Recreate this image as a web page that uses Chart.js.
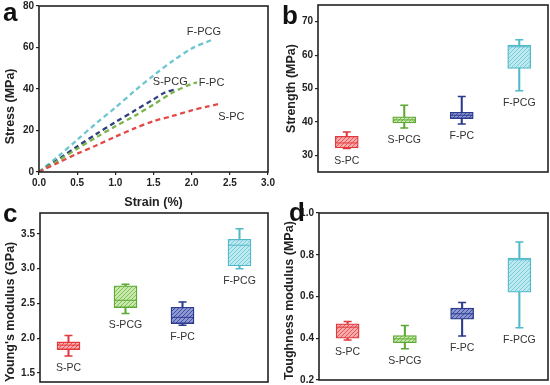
<!DOCTYPE html>
<html>
<head>
<meta charset="utf-8">
<script src="https://cdn.jsdelivr.net/npm/chart.js@4.4.1/dist/chart.umd.min.js"></script>
<style>
  body { margin: 0; background: #fff; width: 550px; height: 385px; position: relative; overflow: hidden; font-family: "Liberation Sans", Arial, sans-serif; }
  canvas { position: absolute; }
  .tag { position: absolute; font: bold 26px "Liberation Sans", Arial, sans-serif; line-height: 26px; color: #111; }
</style>
</head>
<body>
<canvas id="cA" width="277" height="210" style="left:0;top:0"></canvas>
<canvas id="cB" width="275" height="190" style="left:275px;top:0"></canvas>
<canvas id="cC" width="275" height="190" style="left:0;top:195px"></canvas>
<canvas id="cD" width="275" height="190" style="left:275px;top:195px"></canvas>
<div class="tag" style="left:3px;top:-1px">a</div>
<div class="tag" style="left:282px;top:2px">b</div>
<div class="tag" style="left:3px;top:200px">c</div>
<div class="tag" style="left:289px;top:199px">d</div>
<script>
// ---- data ----
const groups = ['S-PC', 'S-PCG', 'F-PC', 'F-PCG'];

// (a) stress-strain curves
const fpcgStrain = [0, 0.25, 0.5, 0.75, 1.0, 1.25, 1.5, 1.75, 2.0, 2.26];
const fpcgStress = [0, 7.5, 15.5, 23.5, 31, 39, 46.5, 53.5, 59.5, 63.6];
const spcgStrain = [0, 0.25, 0.5, 0.75, 1.0, 1.25, 1.5, 1.65, 1.8];
const spcgStress = [0, 6, 12.3, 18.3, 24, 29.5, 35, 38.3, 40];
const fpcStrain = [0, 0.25, 0.5, 0.75, 1.0, 1.25, 1.5, 1.75, 2.0, 2.07];
const fpcStress = [0, 5.5, 11.2, 16.7, 22, 27, 32.5, 38.3, 42.5, 43.2];
const spcStrain = [0, 0.25, 0.5, 0.75, 1.0, 1.25, 1.5, 1.75, 2.0, 2.2, 2.35];
const spcStress = [0, 4.5, 8.8, 12.8, 17, 21, 24.5, 27, 29.7, 31.5, 32.7];
const strainTicks = [0, 0.5, 1, 1.5, 2, 2.5, 3];
const stressTicks = [0, 20, 40, 60, 80];

// (b) strength, MPa
const strMin = [32.0, 38.2, 39.4, 49.3];
const strQ1  = [32.2, 39.7, 41.0, 56.0];
const strMed = [33.7, 40.6, 42.0, 62.5];
const strQ3  = [35.7, 41.5, 42.9, 63.0];
const strMax = [37.0, 45.0, 47.6, 64.6];
const strTicks = [30, 40, 50, 60, 70];

// (c) Young's modulus, GPa
const ymMin = [1.745, 2.354, 2.186, 3.0];
const ymQ1  = [1.836, 2.44, 2.21, 3.04];
const ymMed = [1.9, 2.545, 2.30, 3.337];
const ymQ3  = [1.946, 2.752, 2.445, 3.423];
const ymMax = [2.037, 2.776, 2.52, 3.572];
const ymTicks = [1.5, 2.0, 2.5, 3.0, 3.5];

// (d) toughness modulus, MPa
const tgMin = [0.392, 0.35, 0.411, 0.45];
const tgQ1  = [0.40, 0.379, 0.491, 0.621];
const tgMed = [0.453, 0.397, 0.517, 0.776];
const tgQ3  = [0.469, 0.413, 0.544, 0.784];
const tgMax = [0.48, 0.461, 0.571, 0.861];
const tgTicks = [0.2, 0.4, 0.6, 0.8, 1.0];

// ---- styling ----
const FONT = '"Liberation Sans", Arial, sans-serif';
const edge = ['#e0393e', '#5ea836', '#2b3a8c', '#52b9c9'];
const base = ['#f7aaa9', '#c8e8ad', '#8e99d2', '#bfe8ef'];
const stripe = ['#e8585b', '#7cc152', '#3d4da6', '#74cdda'];

function hatch(b, s) {
  const c = document.createElement('canvas');
  c.width = c.height = 4;
  const g = c.getContext('2d');
  g.fillStyle = b;
  g.fillRect(0, 0, 4, 4);
  g.strokeStyle = s;
  g.lineWidth = 1;
  g.beginPath();
  g.moveTo(0, 4); g.lineTo(4, 0);
  g.moveTo(-1, 1); g.lineTo(1, -1);
  g.moveTo(3, 5); g.lineTo(5, 3);
  g.stroke();
  return g.createPattern(c, 'repeat');
}
const fills = base.map((b, i) => hatch(b, stripe[i]));

Chart.defaults.font.family = FONT;
Chart.defaults.color = '#222';
Chart.defaults.animation = false;

// frame round the plot area
const frame = {
  id: 'frame',
  afterDraw(chart) {
    const a = chart.chartArea, ctx = chart.ctx;
    ctx.save();
    ctx.strokeStyle = '#222';
    ctx.lineWidth = 1.6;
    ctx.strokeRect(a.left, a.top, a.right - a.left, a.bottom - a.top);
    ctx.restore();
  }
};

// text notes placed in data coordinates
const notes = {
  id: 'notes',
  afterDatasetsDraw(chart, args, opts) {
    const ctx = chart.ctx;
    ctx.save();
    ctx.font = opts.font || ('11px ' + FONT);
    ctx.fillStyle = '#333';
    ctx.textAlign = 'center';
    ctx.textBaseline = 'middle';
    (opts.items || []).forEach(n => {
      const x = chart.scales.x.getPixelForValue(n.x);
      const y = chart.scales.y.getPixelForValue(n.y) + (n.dy || 0);
      ctx.fillText(n.text, x, y);
    });
    ctx.restore();
  }
};

function yAxis(min, max, ticks, title, width, titlePad, align, fmt) {
  return {
    min: min, max: max,
    afterBuildTicks: s => { s.ticks = ticks.map(v => ({ value: v })); },
    afterFit: s => { s.width = width; },
    grid: { display: true, drawOnChartArea: false, drawTicks: true, tickLength: 3, color: '#222', lineWidth: 1.2 },
    border: { display: false },
    ticks: { font: { size: 10, weight: 'bold', lineHeight: 0.2 }, color: '#222', padding: 2, callback: fmt },
    title: { display: true, text: title, align: align, font: { size: 12.5, weight: 'bold' }, color: '#222', padding: { top: titlePad, bottom: 0 } }
  };
}

// ---- (a) ----
const pts = (xs, ys) => xs.map((x, i) => ({ x: x, y: ys[i] }));
function curve(label, xs, ys, color) {
  return { label: label, data: pts(xs, ys), borderColor: color, borderWidth: 2.3, borderDash: [5, 3.5], pointRadius: 0, fill: false, tension: 0.3 };
}
new Chart(document.getElementById('cA'), {
  type: 'line',
  data: {
    datasets: [
      curve('S-PC', spcStrain, spcStress, '#e24a48'),
      curve('F-PC', fpcStrain, fpcStress, '#7ab54b'),
      curve('S-PCG', spcgStrain, spcgStress, '#2e3e7e'),
      curve('F-PCG', fpcgStrain, fpcgStress, '#6cc6d0')
    ]
  },
  options: {
    responsive: false,
    layout: { autoPadding: false, padding: { left: 0, right: 9, top: 6, bottom: 0 } },
    plugins: {
      legend: { display: false }, tooltip: { enabled: false },
      notes: { items: [
        { text: 'F-PCG', x: 2.16, y: 67.4 },
        { text: 'S-PCG', x: 1.72, y: 43.4 },
        { text: 'F-PC', x: 2.26, y: 42.9 },
        { text: 'S-PC', x: 2.52, y: 26.6 }
      ] }
    },
    scales: {
      x: {
        type: 'linear', min: 0, max: 3,
        afterBuildTicks: s => { s.ticks = strainTicks.map(v => ({ value: v })); },
        afterFit: s => { s.height = 38; },
        grid: { display: true, drawOnChartArea: false, drawTicks: true, tickLength: 3, color: '#222', lineWidth: 1.2 },
        border: { display: false },
        ticks: { font: { size: 10, weight: 'bold' }, color: '#222', padding: 2, maxRotation: 0, callback: v => v.toFixed(1) },
        title: { display: true, text: 'Strain (%)', font: { size: 12.5, weight: 'bold' }, color: '#222', padding: { top: 2, bottom: 0 } }
      },
      y: yAxis(0, 80, stressTicks, 'Stress (MPa)          ', 39, 3, 'center', v => v)
    }
  },
  plugins: [frame, notes]
});

// ---- box panels ----
function boxChart(id, lo, q1, med, q3, hi, min, max, ticks, title, yw, titlePad, align, pad, xh, fmt) {
  new Chart(document.getElementById(id), {
    type: 'bar',
    data: {
      labels: groups,
      datasets: [
        { type: 'line', data: hi, showLine: false, pointStyle: 'line', pointRadius: 4, pointBorderWidth: 1.5, pointBorderColor: edge, order: 0 },
        { type: 'line', data: lo, showLine: false, pointStyle: 'line', pointRadius: 4, pointBorderWidth: 1.5, pointBorderColor: edge, order: 0 },
        { type: 'line', data: med, showLine: false, pointStyle: 'line', pointRadius: 11, pointBorderWidth: 1, pointBorderColor: edge, order: 0 },
        { data: q1.map((v, i) => [v, q3[i]]), backgroundColor: fills, borderColor: edge, borderWidth: 1.3, borderSkipped: false, barThickness: 23, grouped: false, order: 1 },
        { data: lo.map((v, i) => [v, hi[i]]), backgroundColor: edge, borderWidth: 0, barThickness: 1.4, grouped: false, order: 2 }
      ]
    },
    options: {
      responsive: false,
      layout: { autoPadding: false, padding: pad },
      plugins: {
        legend: { display: false }, tooltip: { enabled: false },
        notes: { font: '10.5px ' + FONT, items: groups.map((g, i) => ({ text: g, x: i, y: lo[i], dy: 12 })) }
      },
      scales: {
        x: {
          ticks: { display: false },
          grid: { display: false },
          border: { display: false },
          afterFit: s => { s.height = xh; }
        },
        y: yAxis(min, max, ticks, title, yw, titlePad, align, fmt)
      }
    },
    plugins: [frame, notes]
  });
}

boxChart('cB', strMin, strQ1, strMed, strQ3, strMax, 25, 75, strTicks, 'Strength (MPa)', 43, 9, 'center',
  { left: 0, right: 2, top: 5, bottom: 0 }, 18, v => v);
boxChart('cC', ymMin, ymQ1, ymMed, ymQ3, ymMax, 1.37, 3.8, ymTicks, "Young's modulus (GPa)", 40, 3, 'start',
  { left: 0, right: 7, top: 18, bottom: 0 }, 3, v => v.toFixed(1));
boxChart('cD', tgMin, tgQ1, tgMed, tgQ3, tgMax, 0.2, 1.0, tgTicks, 'Toughness modulus (MPa)', 44, 7, 'start',
  { left: 0, right: 2, top: 18, bottom: 0 }, 5, v => v.toFixed(1));
</script>
</body>
</html>
